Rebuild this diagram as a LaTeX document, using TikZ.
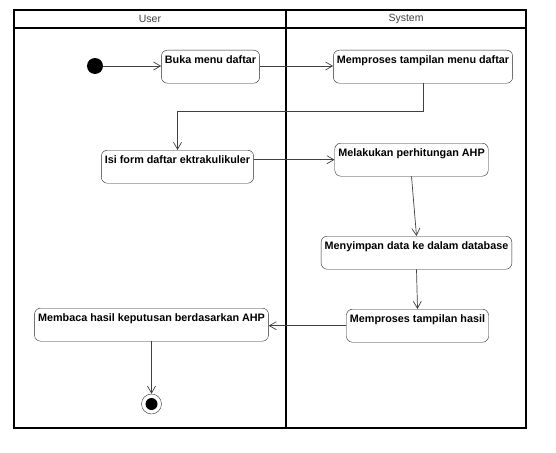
\documentclass[tikz,border=0pt]{standalone}
\usepackage{fontspec}
\setmainfont{Liberation Sans}
\usetikzlibrary{arrows.meta}

\begin{document}
\begin{tikzpicture}[x=1pt, y=-1pt,
	act/.style={draw=black!85, fill=white, rounded corners=6pt, font=\fontsize{10.8}{12}\selectfont\bfseries, inner xsep=3.5pt, inner ysep=2.5pt, text height=11pt, text depth=17pt, anchor=north},
	flow/.style={draw=black!75, line width=0.7pt, -{Straight Barb[length=7pt,width=8pt]}},
	lane/.style={font=\fontsize{10.5}{12}\selectfont, text=black!75}]
	
	\useasboundingbox (0,0) rectangle (556,452);
	
	% swimlanes
	\draw[black, line width=1.2pt] (14,10) rectangle (526,428);
	\draw[black, line width=1.2pt] (14,28) -- (526,28);
	\draw[black, line width=1.2pt] (286,10) -- (286,428);
	\node[lane] (user) at (150,19) {User};
	\node[lane] (system) at (406,19) {System};
	
	% activities
	\node[circle, fill=black, minimum size=16pt, inner sep=0pt] (start) at (95,66) {};
	\node[act] (buka) at (210.5,50) {Buka menu daftar};
	\node[act] (proses) at (423,50) {Memproses tampilan menu daftar};
	\node[act] (isi) at (177.5,150) {Isi form daftar ektrakulikuler};
	\node[act] (hitung) at (411.5,143) {Melakukan perhitungan AHP};
	\node[act] (simpan) at (416.5,236) {Menyimpan data ke dalam database};
	\node[act] (hasil) at (417.5,309) {Memproses tampilan hasil};
	\node[act] (baca) at (151.5,308) {Membaca hasil keputusan berdasarkan AHP};
	\node[circle, draw=black!80, fill=white, minimum size=20pt, inner sep=0pt] (end) at (151.5,404) {};
	\node[circle, fill=black, minimum size=12pt, inner sep=0pt] (endin) at (151.5,404) {};
	\coordinate (k1) at (177.5,111);
	
	% flows
	\draw[flow] (start) -- (buka.west |- start);
	\draw[flow] (buka.east |- start) -- (proses.west |- start);
	\draw[flow] (proses.south) |- (k1) -- (isi.north);
	\draw[flow] (isi.east |- hitung) -- (hitung.west);
	\draw[flow] (hitung.south) -- (simpan.north);
	\draw[flow] (simpan.south) -- (hasil.north);
	\draw[flow] (hasil.west) -- (baca.east |- hasil);
	\draw[flow] (baca.south) -- (end.north);
\end{tikzpicture}
\end{document}
